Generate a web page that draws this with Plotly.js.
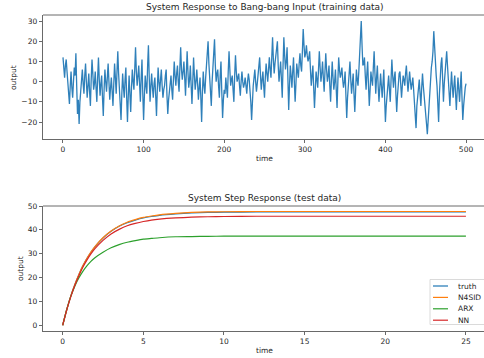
<!DOCTYPE html>
<html><head><meta charset="utf-8">
<script src="https://cdn.plot.ly/plotly-3.0.1.min.js"></script>
<style>html,body{margin:0;padding:0;background:#fff;} #chart{width:484px;height:358px;}</style>
</head><body><div id="chart"></div>
<script>
// ---- data ----
const trainStep = 1; // time units between samples
const trainOutput = [
 12,4,2,8,11,5,0,-6,-11,-2,5,-3,-8,0,7,3,14,-2,-16,-9,
 -21,-10,-3,2,6,-1,-6,3,9,0,-8,-2,4,-5,-12,1,11,4,-4,-1,
 5,-3,-10,2,12,1,-7,-1,3,-8,-17,-4,6,0,-5,2,9,0,-9,-3,
 2,-5,-12,-1,9,2,-6,5,15,4,-3,-10,-19,-6,4,-3,-8,1,7,-8,
 -20,-7,3,-6,-15,-3,6,0,-4,6,17,5,-2,3,8,-1,-10,2,11,-6,
 -19,-7,3,-2,-6,8,18,2,-10,-2,4,-3,-8,-1,2,-7,-17,-4,7,0,
 -5,1,6,-2,-8,-4,-2,3,6,-7,-16,-9,-4,-1,3,-4,-9,1,10,3,
 -2,4,8,0,-5,7,17,6,1,5,10,2,-7,4,15,5,-3,1,8,-2,
 -11,0,12,3,-4,0,6,-1,-9,-3,2,-8,-20,-5,5,-2,-6,2,8,12,
 20,9,2,-4,-12,0,10,14,21,8,0,4,6,-2,-8,3,10,-5,-18,-9,
 -4,-6,2,-3,-8,5,15,6,-2,1,3,-4,-10,3,13,5,0,2,4,-2,
 -7,0,5,0,-3,-1,2,-2,-6,0,4,1,-3,-10,-19,-8,-2,2,6,0,
 -5,-1,3,7,12,3,-4,1,5,-2,-8,2,9,4,0,6,12,6,2,12,
 22,11,4,9,14,16,20,8,0,5,10,1,-8,8,22,13,6,10,17,2,
 -14,-2,8,3,-3,5,12,0,-10,-1,9,5,2,9,14,8,5,15,26,18,
 12,14,18,13,10,12,15,6,-2,3,8,-3,-13,-4,5,1,-3,6,15,7,
 0,4,10,2,-5,5,14,6,0,3,8,-2,-10,1,10,2,-4,0,6,-4,
 -13,0,12,6,2,4,7,1,-3,0,5,-7,-18,-8,0,5,10,1,-6,-1,
 4,-6,-15,-5,6,1,-2,5,12,20,30,18,8,9,12,3,-4,4,10,-2,
 -12,-4,5,1,-2,7,15,4,-6,2,8,-2,-10,-3,4,-2,-8,-1,6,-8,
 -20,-12,-5,-1,3,-4,-10,1,11,3,-3,2,5,-6,-15,-7,2,4,5,-2,
 -8,-2,3,1,-2,4,8,1,-5,0,5,0,-4,-1,2,-4,-10,-17,-23,-12,
 -6,-3,1,-6,-12,-3,4,-2,-8,-12,-16,-21,-26,-18,-14,-5,3,7,10,15,
 25,16,8,3,-2,-12,-20,-6,5,9,12,0,-10,-1,6,10,15,8,2,-6,
 -12,-3,5,-2,-8,-2,3,-6,-14,-5,2,-4,-10,-2,5,-8,-19,-12,-6,-3,
 -1
];
const stepTime = [0,0.25,0.5,0.75,1,1.25,1.5,1.75,2,2.5,3,3.5,4,4.5,5,5.5,6,7,8,9,10,12,14,16,18,20,22,25];
const truth = [0,6.5,12.2,17.0,21.2,24.9,28.0,30.6,32.9,36.6,39.4,41.5,43.0,44.1,45.0,45.6,46.1,46.7,47.1,47.3,47.4,47.5,47.5,47.5,47.5,47.5,47.5,47.5];
const n4sid = [0,6.5,12.2,17.0,21.2,24.9,28.0,30.7,33.0,36.7,39.5,41.6,43.2,44.3,45.2,45.8,46.3,46.9,47.3,47.5,47.6,47.7,47.7,47.7,47.7,47.7,47.7,47.7];
const arx = [0,6.5,12.0,16.4,19.8,22.6,24.9,26.8,28.3,30.6,32.5,33.8,34.8,35.5,36.1,36.4,36.7,37.1,37.2,37.3,37.35,37.4,37.4,37.4,37.4,37.4,37.4,37.4];
const nn = [0,6.4,11.9,16.7,20.7,24.3,27.3,29.9,32.1,35.6,38.3,40.2,41.7,42.7,43.5,44.1,44.5,45.0,45.3,45.5,45.6,45.7,45.7,45.7,45.7,45.7,45.7,45.7];
const seriesNames = ['truth','N4SID','ARX','NN'];
const topTitle = 'System Response to Bang-bang Input (training data)';
const bottomTitle = 'System Step Response (test data)';
const xLabel = 'time', yLabel = 'output';
const topXTicks = [0,100,200,300,400,500];
const topYTicks = [-20,-10,0,10,20,30];
const botXTicks = [0,5,10,15,20,25];
const botYTicks = [0,10,20,30,40,50];

// ---- styling / layout ----
const colors = ['#1f77b4','#ff7f0e','#2ca02c','#d62728'];
const W=484, H=358, L=43, R=0, T=15, B=27;
const px = x => (x-L)/(W-L-R);
const py = y => (H-B-y)/(H-T-B);
const FONT = 'DejaVu Sans, sans-serif';
const TXT = '#262626';

const trainTime = trainOutput.map((_, i) => i*trainStep);
const stepSeries = [truth, n4sid, arx, nn];

const traces = [{
  x: trainTime, y: trainOutput, xaxis:'x', yaxis:'y', type:'scatter', mode:'lines',
  line:{color:'#2f80ba', width:1.3}, showlegend:false, hoverinfo:'skip'
}];
stepSeries.forEach((s,i)=>traces.push({
  x: stepTime, y: s, xaxis:'x2', yaxis:'y2', type:'scatter', mode:'lines', name: seriesNames[i],
  line:{color:colors[i], width:1.2, shape:'spline', smoothing:0.6}, showlegend:false
}));

const axBase = {
  showgrid:false, zeroline:false, showline:true, linecolor:'#444', linewidth:0.8,
  ticks:'outside', ticklen:3.5, tickwidth:0.8, tickcolor:'#444',
  tickfont:{family:FONT, size:7.5, color:TXT}, tickmode:'array'
};
const topDom = [py(139), py(15)];
const botDom = [py(331), py(206)];

const annotations = [
  {text: topTitle, x:px(264.5), y:py(7.3), size:9},
  {text: bottomTitle, x:px(264.5), y:py(198.3), size:9},
  {text: xLabel, x:px(264.5), y:py(158.5), size:7.5},
  {text: xLabel, x:px(264.5), y:py(351), size:7.5},
  {text: yLabel, x:px(14), y:py(78), size:7.5, angle:-90},
  {text: yLabel, x:px(20.5), y:py(268.5), size:7.5, angle:-90}
].map(a=>({text:a.text, xref:'paper', yref:'paper', x:a.x, y:a.y, xanchor:'center', yanchor:'middle',
  showarrow:false, textangle:a.angle||0, font:{family:FONT, size:a.size, color:TXT}}));

const legRows = [286, 297.4, 308.8, 320.2];
const shapes = [
  {type:'line', xref:'paper', yref:'paper', x0:0, x1:1, y0:topDom[1], y1:topDom[1], line:{color:'#444', width:0.8}},
  {type:'line', xref:'paper', yref:'paper', x0:0, x1:1, y0:botDom[1], y1:botDom[1], line:{color:'#444', width:0.8}},
  {type:'rect', xref:'paper', yref:'paper', x0:px(430), x1:px(492), y0:py(324.5), y1:py(279.5),
   line:{color:'#d0d0d0', width:0.8}, fillcolor:'rgba(255,255,255,0.85)'}
];
seriesNames.forEach((n,i)=>{
  shapes.push({type:'line', xref:'paper', yref:'paper', x0:px(433), x1:px(448), y0:py(legRows[i]), y1:py(legRows[i]),
    line:{color:colors[i], width:1.2}});
  annotations.push({text:n, xref:'paper', yref:'paper', x:px(455.5), y:py(legRows[i]), xanchor:'left', yanchor:'middle',
    showarrow:false, font:{family:FONT, size:7.5, color:TXT}});
});

const layout = {
  width:W, height:H, margin:{l:L, r:R, t:T, b:B, pad:0},
  paper_bgcolor:'#fff', plot_bgcolor:'#fff', showlegend:false,
  font:{family:FONT, color:TXT},
  xaxis: Object.assign({}, axBase, {domain:[0,1], anchor:'y', range:[-24.8,522.3], tickvals:topXTicks}),
  yaxis: Object.assign({}, axBase, {domain:topDom, anchor:'x', range:[-28.4,33.0], tickvals:topYTicks}),
  xaxis2: Object.assign({}, axBase, {domain:[0,1], anchor:'y2', range:[-1.22,26.12], tickvals:botXTicks}),
  yaxis2: Object.assign({}, axBase, {domain:botDom, anchor:'x2', range:[-2.4,50], tickvals:botYTicks}),
  annotations, shapes
};
Plotly.newPlot('chart', traces, layout, {staticPlot:true, displayModeBar:false});
</script></body></html>
